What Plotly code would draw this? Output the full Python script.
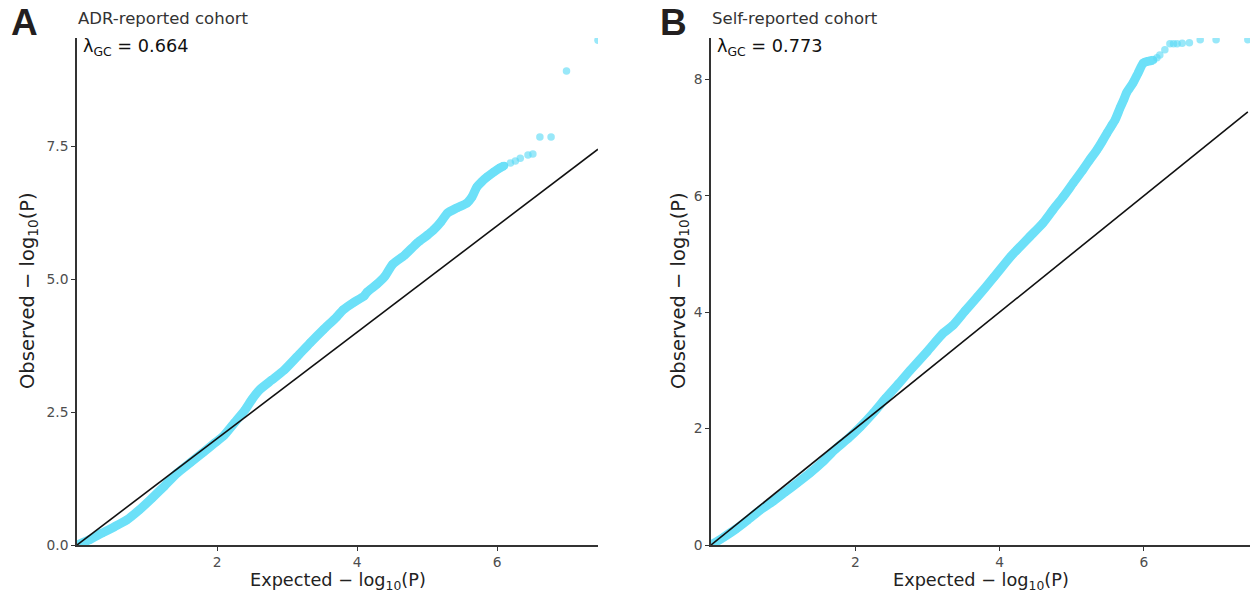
import plotly.graph_objects as go

# ---- Data (expected vs observed -log10 P) ----
# Panel A: ADR-reported cohort
band_a_exp = [0.0, 0.18, 0.35, 0.53, 0.71, 0.89, 1.07, 1.25, 1.43, 1.62, 1.8, 1.97, 2.1, 2.25, 2.4, 2.5, 2.61,
              2.78, 2.96, 3.15, 3.33, 3.52, 3.71, 3.8, 3.95, 4.1, 4.14, 4.28, 4.39, 4.51, 4.68, 4.86, 5.0,
              5.09, 5.2, 5.29, 5.43, 5.57, 5.64, 5.71, 5.78, 5.86, 5.95, 6.04, 6.1]
band_a_obs = [0.0, 0.1, 0.22, 0.34, 0.47, 0.66, 0.88, 1.11, 1.35, 1.55, 1.74, 1.92, 2.06, 2.3, 2.54, 2.74, 2.92,
              3.1, 3.29, 3.55, 3.8, 4.05, 4.29, 4.42, 4.56, 4.68, 4.75, 4.9, 5.04, 5.28, 5.45, 5.68, 5.82,
              5.92, 6.08, 6.24, 6.34, 6.43, 6.54, 6.73, 6.83, 6.92, 7.01, 7.09, 7.13]
tail_a_exp = [6.19, 6.26, 6.33, 6.44, 6.51, 6.61, 6.77, 6.99, 7.44]
tail_a_obs = [7.18, 7.22, 7.27, 7.33, 7.35, 7.67, 7.67, 8.91, 9.49]
lambda_a = "0.664"

# Panel B: Self-reported cohort
band_b_exp = [0.0, 0.17, 0.34, 0.51, 0.68, 0.86, 1.03, 1.2, 1.375, 1.55, 1.72, 1.9, 2.07, 2.25, 2.42, 2.6,
              2.76, 3.0, 3.22, 3.35, 3.52, 3.69, 3.92, 4.15, 4.24, 4.42, 4.6, 4.74, 4.88, 5.02, 5.15, 5.25,
              5.35, 5.42, 5.49, 5.55, 5.6, 5.67, 5.72, 5.76, 5.85, 5.92, 5.99, 6.06, 6.13]
band_b_obs = [0.0, 0.13, 0.27, 0.43, 0.6, 0.75, 0.91, 1.07, 1.24, 1.43, 1.64, 1.83, 2.03, 2.27, 2.52, 2.77,
              3.0, 3.33, 3.64, 3.77, 4.02, 4.26, 4.6, 4.95, 5.07, 5.3, 5.53, 5.76, 5.98, 6.22, 6.44, 6.62,
              6.79, 6.93, 7.08, 7.2, 7.3, 7.51, 7.65, 7.77, 7.94, 8.11, 8.28, 8.31, 8.33]
tail_b_exp = [6.18, 6.22, 6.29, 6.36, 6.41, 6.46, 6.53, 6.63, 6.78, 7.0, 7.44]
tail_b_obs = [8.37, 8.42, 8.51, 8.61, 8.61, 8.61, 8.62, 8.63, 8.68, 8.68, 8.68]
lambda_b = "0.773"

titles = ["ADR-reported cohort", "Self-reported cohort"]
letters = ["A", "B"]
y_ticks_a = [0.0, 2.5, 5.0, 7.5]
y_ticks_b = [0, 2, 4, 6, 8]
x_ticks = [2, 4, 6]

# ---- Styling ----
W, H = 1252, 599
BAND = "rgb(108,224,248)"
TAIL = "rgba(90,218,246,0.62)"
AXIS = "#333333"
TICKFONT = dict(family="DejaVu Sans", size=13.8, color="#4D4D4D")
FONT = "DejaVu Sans"

def px_x(p):
    return p / W

def px_y(p):
    return 1 - p / H

dom_y = [px_y(545), px_y(38)]
dom_xa = [px_x(77), px_x(598)]
dom_xb = [px_x(711), px_x(1250)]

fig = go.Figure()

panels = [
    (band_a_exp, band_a_obs, tail_a_exp, tail_a_obs, "x", "y"),
    (band_b_exp, band_b_obs, tail_b_exp, tail_b_obs, "x2", "y2"),
]
for bx, by, tx, ty, xa, ya in panels:
    fig.add_trace(go.Scatter(x=bx, y=by, mode="lines+markers", xaxis=xa, yaxis=ya,
                             line=dict(color=BAND, width=9, shape="spline", smoothing=0.6),
                             marker=dict(color=BAND, size=8),
                             hoverinfo="skip", showlegend=False))
    fig.add_trace(go.Scatter(x=tx, y=ty, mode="markers", xaxis=xa, yaxis=ya,
                             marker=dict(color=TAIL, size=7.5, line=dict(width=0)),
                             hoverinfo="skip", showlegend=False))
    xmax = tx[-1]
    fig.add_trace(go.Scatter(x=[0, xmax], y=[0, xmax], mode="lines", xaxis=xa, yaxis=ya,
                             line=dict(color="#111111", width=1.6),
                             hoverinfo="skip", showlegend=False))

axis_common = dict(showline=True, linecolor=AXIS, linewidth=1.5, ticks="outside",
                   ticklen=4, tickwidth=1.3, tickcolor=AXIS, showgrid=False, zeroline=False,
                   tickfont=TICKFONT, fixedrange=True, automargin=False)

fig.update_layout(
    width=W, height=H, autosize=False,
    margin=dict(l=0, r=0, t=0, b=0, pad=0, autoexpand=False),
    paper_bgcolor="white", plot_bgcolor="white",
    xaxis=dict(domain=dom_xa, range=[0, 7.44], tickvals=x_ticks, anchor="y", **axis_common),
    yaxis=dict(domain=dom_y, range=[0, 9.53], tickvals=y_ticks_a, tickformat=".1f", anchor="x",
               **axis_common),
    xaxis2=dict(domain=dom_xb, range=[0, 7.47], tickvals=x_ticks, anchor="y2", **axis_common),
    yaxis2=dict(domain=dom_y, range=[0, 8.71], tickvals=y_ticks_b, anchor="x2", **axis_common),
)

ann = []
xtitle = "Expected \u2212 log<sub>10</sub>(P)"
ytitle = "Observed \u2212 log<sub>10</sub>(P)"
for i, (lam, x_left, x_right, letter_x, ytitle_x) in enumerate(
        [(lambda_a, 77, 598, 9, 28), (lambda_b, 711, 1250, 658, 679)]):
    ann.append(dict(text="<b>" + letters[i] + "</b>", x=px_x(letter_x), y=px_y(23), xref="paper",
                    yref="paper", xanchor="left", yanchor="middle", showarrow=False,
                    font=dict(family="Liberation Sans Narrow, Liberation Sans", size=37, color="#231F20")))
    ann.append(dict(text=titles[i], x=px_x(x_left - 1), y=px_y(19), xref="paper", yref="paper",
                    xanchor="left", yanchor="middle", showarrow=False,
                    font=dict(family=FONT, size=16.5, color="#333333")))
    ann.append(dict(text="\u03bb<sub>GC</sub> = " + lam, x=px_x(x_left + 4), y=px_y(47), xref="paper",
                    yref="paper", xanchor="left", yanchor="middle", showarrow=False,
                    font=dict(family=FONT, size=17.7, color="#111111")))
    ann.append(dict(text=xtitle, x=px_x((x_left + x_right) / 2), y=px_y(581), xref="paper",
                    yref="paper", xanchor="center", yanchor="middle", showarrow=False,
                    font=dict(family=FONT, size=17.7, color="#222222")))
    ann.append(dict(text=ytitle, x=px_x(ytitle_x), y=px_y(291), xref="paper", yref="paper",
                    xanchor="center", yanchor="middle", showarrow=False, textangle=-90,
                    font=dict(family=FONT, size=19.5, color="#222222")))
fig.update_layout(annotations=ann)

css_js = ("var s=document.createElement('style');"
          "s.innerHTML='html,body{margin:0!important;padding:0!important;overflow:hidden!important;}';"
          "document.head.appendChild(s);")
fig.write_html("out.html", config={"displayModeBar": False}, post_script=css_js)
